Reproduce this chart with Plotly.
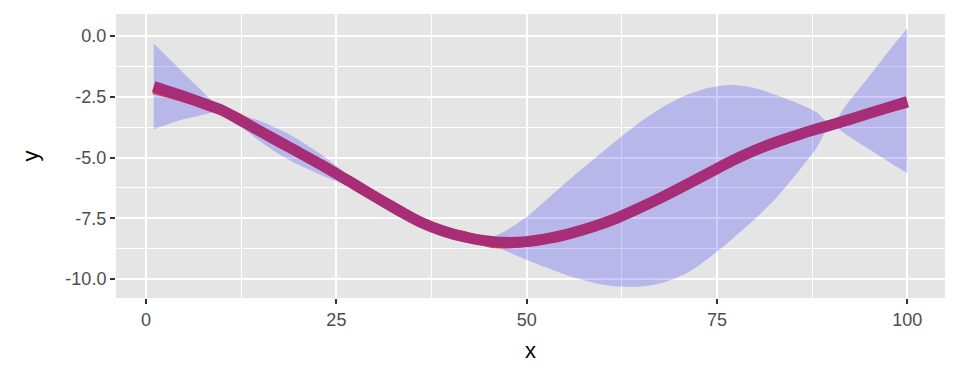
import plotly.graph_objects as go

# ---- data ----
grid_x = [1, 3, 5, 7, 9, 10, 12, 15, 18, 20, 23, 26, 28, 30, 33, 36, 39, 42, 44,
          47, 50, 53, 56, 59, 62, 65, 68, 71, 74, 77, 80, 83, 86, 88, 90, 92, 95, 98, 100]
mean_y = [-2.08, -2.28, -2.49, -2.71, -2.94, -3.06, -3.40, -3.92, -4.44, -4.78, -5.30, -5.85, -6.22, -6.60,
          -7.15, -7.65, -8.02, -8.28, -8.40,
          -8.49, -8.46, -8.32, -8.10, -7.82, -7.47, -7.05, -6.60, -6.12, -5.62, -5.13, -4.70, -4.34, -4.03,
          -3.84, -3.66, -3.47, -3.18, -2.89, -2.70]
upper_y = [-0.30, -0.93, -1.55, -2.15, -2.78, -3.06, -3.20, -3.50, -3.92, -4.26, -4.88, -5.59, -6.09, -6.60,
           -7.05, -7.50, -7.89, -8.22, -8.40,
           -8.05, -7.44, -6.62, -5.80, -5.02, -4.25, -3.52, -2.90, -2.43, -2.13, -2.02, -2.15, -2.45, -2.82,
           -3.12, -3.62, -2.83, -1.65, -0.44, 0.32]
lower_y = [-3.84, -3.62, -3.42, -3.28, -3.13, -3.06, -3.60, -4.34, -4.96, -5.30, -5.72, -6.11, -6.35, -6.60,
           -7.25, -7.80, -8.15, -8.34, -8.40,
           -8.80, -9.22, -9.58, -9.92, -10.17, -10.31, -10.31, -10.14, -9.76, -9.12, -8.35, -7.52, -6.58, -5.45,
           -4.65, -3.66, -4.06, -4.66, -5.26, -5.65]

true_x = [1, 5, 8, 10, 12, 15, 20, 26, 28, 30, 32, 36, 40, 42, 44, 46, 50, 56, 62, 68, 74, 80, 86, 88, 90, 92, 96, 100]
true_y = [-2.18, -2.53, -2.84, -3.06, -3.36, -3.92, -4.78, -5.85, -6.24, -6.60, -6.94, -7.65, -8.12, -8.25, -8.40,
          -8.53, -8.47, -8.10, -7.47, -6.60, -5.62, -4.70, -4.03, -3.82, -3.65, -3.49, -3.08, -2.74]

obs_x = [10, 30, 44, 90]
obs_y = [-3.06, -6.60, -8.40, -3.65]

x_ticks = [0, 25, 50, 75, 100]
x_tick_labels = ["0", "25", "50", "75", "100"]
y_ticks = [0.0, -2.5, -5.0, -7.5, -10.0]
y_tick_labels = ["0.0", "-2.5", "-5.0", "-7.5", "-10.0"]

# ---- figure ----
fig = go.Figure()
fig.add_trace(go.Scatter(x=grid_x, y=lower_y, mode="lines", line=dict(width=0, shape="spline", smoothing=0.8),
                         hoverinfo="skip", showlegend=False))
fig.add_trace(go.Scatter(x=grid_x, y=upper_y, mode="lines", line=dict(width=0, shape="spline", smoothing=0.8),
                         fill="tonexty", fillcolor="rgba(0,0,255,0.2)", hoverinfo="skip", showlegend=False))
fig.add_trace(go.Scatter(x=obs_x, y=obs_y, mode="markers", marker=dict(color="black", size=8),
                         showlegend=False))
fig.add_trace(go.Scatter(x=true_x, y=true_y, mode="lines",
                         line=dict(color="#DC3B55", width=10, shape="spline", smoothing=0.8),
                         showlegend=False))
fig.add_trace(go.Scatter(x=grid_x, y=mean_y, mode="lines",
                         line=dict(color="#A62D76", width=11, shape="spline", smoothing=0.8),
                         showlegend=False))

minor_x = [(a + b) / 2 for a, b in zip(x_ticks[:-1], x_ticks[1:])]
minor_y = [(a + b) / 2 for a, b in zip(y_ticks[:-1], y_ticks[1:])]

axis_common = dict(showline=False, zeroline=False, showgrid=True, gridcolor="white", gridwidth=2,
                   ticks="outside", ticklen=5, tickwidth=2, tickcolor="#333333",
                   tickfont=dict(family="Liberation Sans, Arial, sans-serif", size=18, color="#4D4D4D"))

fig.update_layout(
    width=960, height=384,
    margin=dict(l=116, r=15, t=14, b=86),
    paper_bgcolor="white", plot_bgcolor="#E5E5E5",
    font=dict(family="Liberation Sans, Arial, sans-serif"),
    xaxis=dict(range=[-3.95, 104.95], tickmode="array", tickvals=x_ticks, ticktext=x_tick_labels,
               minor=dict(tickmode="array", tickvals=minor_x, showgrid=True, gridcolor="white", gridwidth=1, ticks=""),
               title=dict(text="x", font=dict(size=22, color="black"), standoff=14), **axis_common),
    yaxis=dict(range=[-10.78, 0.905], tickmode="array", tickvals=y_ticks, ticktext=y_tick_labels,
               minor=dict(tickmode="array", tickvals=minor_y, showgrid=True, gridcolor="white", gridwidth=1, ticks=""),
               title=dict(text="y", font=dict(size=22, color="black"), standoff=20), **axis_common),
)

fig.write_html("out.html")
